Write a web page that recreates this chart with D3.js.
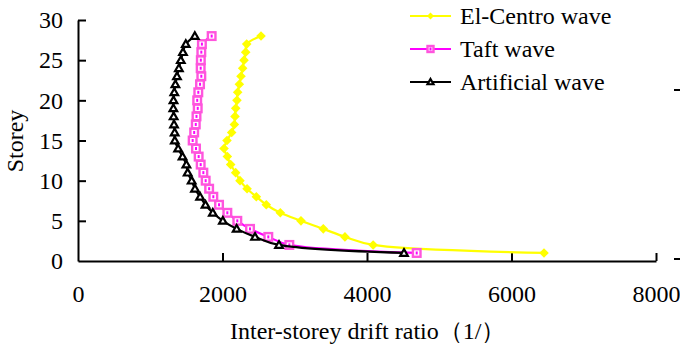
<!DOCTYPE html>
<html>
<head>
<meta charset="utf-8">
<script src="https://cdn.jsdelivr.net/npm/d3@7"></script>
<style>
  body { margin: 0; background: #fff; }
  svg text { font-family: "Liberation Serif", "Times New Roman", serif; fill: #000; }
</style>
</head>
<body>
<svg id="chart" width="680" height="344"></svg>
<script>
const storeys = d3.range(1, 29);
const xTicks = [0, 2000, 4000, 6000, 8000];
const yTicks = [0, 5, 10, 15, 20, 25, 30];

// drift ratio denominators, storey 1..28
const elCentro = [6450, 4085, 3695, 3395, 3086, 2800, 2606, 2468, 2340, 2242, 2182, 2113, 2067, 2021, 2062,
  2127, 2164, 2173, 2183, 2200, 2210, 2233, 2256, 2279, 2298, 2321, 2335, 2533];
const taft = [4688, 2925, 2634, 2381, 2205, 2067, 1952, 1873, 1815, 1767, 1735, 1698, 1670, 1633, 1587,
  1608, 1630, 1640, 1657, 1650, 1665, 1689, 1707, 1698, 1700, 1707, 1715, 1850];
const artificial = [4512, 2782, 2450, 2196, 2005, 1866, 1765, 1690, 1619, 1573, 1518, 1500, 1447, 1386, 1340,
  1338, 1329, 1324, 1320, 1322, 1333, 1348, 1370, 1396, 1423, 1453, 1492, 1617];

const series = [
  { name: 'El-Centro wave', values: elCentro, color: '#ffff00', marker: 'diamond' },
  { name: 'Taft wave', values: taft, color: '#ff00ff', marker: 'square' },
  { name: 'Artificial wave', values: artificial, color: '#000000', marker: 'triangle' }
];

const svg = d3.select('#chart');
const x = d3.scaleLinear().domain([0, 8000]).range([78, 656]);
const y = d3.scaleLinear().domain([0, 30]).range([261, 20]);
const font = "'Liberation Serif', 'Times New Roman', serif";

// axes
const xAxis = svg.append('g').attr('transform', `translate(0,${y(0)})`)
  .call(d3.axisBottom(x).tickValues(xTicks).tickFormat(d3.format('d'))
    .tickSizeInner(-8).tickSizeOuter(0));
const yAxis = svg.append('g').attr('transform', `translate(${x(0)},0)`)
  .call(d3.axisLeft(y).tickValues(yTicks).tickSizeInner(-8).tickSizeOuter(0).tickPadding(15));
[xAxis, yAxis].forEach((g) => {
  g.attr('font-family', null).attr('font-size', null);
  g.select('.domain').attr('stroke', '#000').attr('stroke-width', 2);
  g.selectAll('.tick line').attr('stroke', '#000').attr('stroke-width', 2);
  g.selectAll('.tick text').style('font-family', font).style('font-size', '24px');
});
xAxis.selectAll('.tick text').attr('y', 40.5).attr('dy', null);
xAxis.selectAll('.tick').filter((d) => d === 0).select('line').remove();
yAxis.selectAll('.tick').filter((d) => d === 0).select('line').remove();

// stray ticks of an off-canvas axis on the right edge
svg.append('line').attr('x1', 674).attr('x2', 680).attr('y1', 90).attr('y2', 90)
  .attr('stroke', '#000').attr('stroke-width', 2);
svg.append('line').attr('x1', 674).attr('x2', 680).attr('y1', 259).attr('y2', 259)
  .attr('stroke', '#000').attr('stroke-width', 2);

const line = d3.line()
  .x((d) => x(d[0]))
  .y((d) => y(d[1]))
  .curve(d3.curveCatmullRom.alpha(0.5));

function drawMarker(g, type, color, cx, cy, s) {
  if (type === 'diamond') {
    g.append('path')
      .attr('d', `M${cx},${cy - s}L${cx + s},${cy}L${cx},${cy + s}L${cx - s},${cy}Z`)
      .attr('fill', color);
  } else if (type === 'square') {
    g.append('rect')
      .attr('x', cx - s).attr('y', cy - s).attr('width', 2 * s).attr('height', 2 * s)
      .attr('fill', '#fff').attr('stroke', '#ff55dd').attr('stroke-width', 2.4);
    g.append('rect')
      .attr('x', cx - 1).attr('y', cy - 1.5).attr('width', 2).attr('height', 3)
      .attr('fill', color);
  } else {
    g.append('path')
      .attr('d', `M${cx},${cy - s}L${cx + s},${cy + s * 0.75}L${cx - s},${cy + s * 0.75}Z`)
      .attr('fill', '#fff').attr('stroke', color).attr('stroke-width', 2.2);
  }
}

series.forEach((s) => {
  const pts = s.values.map((v, i) => [v, storeys[i]]);
  svg.append('path').datum(pts)
    .attr('d', line)
    .attr('fill', 'none')
    .attr('stroke', s.color)
    .attr('stroke-width', 2.2);
  const g = svg.append('g');
  pts.forEach((p) => drawMarker(g, s.marker, s.color, x(p[0]), y(p[1]), s.marker === 'diamond' ? 4.8 : 3.8));
});

// legend
const legendRows = [16, 49, 82];
series.forEach((s, i) => {
  const ly = legendRows[i];
  svg.append('line').attr('x1', 410).attr('x2', 451).attr('y1', ly).attr('y2', ly)
    .attr('stroke', s.color).attr('stroke-width', 2.2);
  drawMarker(svg.append('g'), s.marker, s.color, 430.5, ly, s.marker === 'diamond' ? 3.5 : 3);
  svg.append('text').attr('x', 460).attr('y', ly + 8)
    .style('font-size', '24px').text(s.name);
});

// axis titles
svg.append('text')
  .attr('transform', 'translate(23,141) rotate(-90)')
  .attr('text-anchor', 'middle')
  .style('font-size', '24px')
  .text('Storey');
svg.append('text')
  .attr('x', 230).attr('y', 339)
  .style('font-size', '24px')
  .text('Inter-storey drift ratio（1/）');
</script>
</body>
</html>
